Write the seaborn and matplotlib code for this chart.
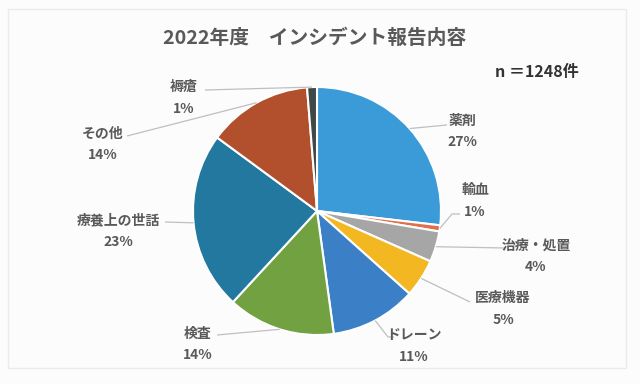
import numpy as np
import seaborn as sns
import matplotlib.pyplot as plt
from matplotlib.patches import Rectangle

# data (counts, n = 1248)
categories = ['薬剤', '輸血', '治療・処置', '医療機器', 'ドレーン', '検査', '療養上の世話', 'その他', '褥瘡']
counts = [335, 10, 50, 62, 140, 175, 290, 170, 16]
colors = ['#3a9bd8', '#e0704e', '#a6a6a6', '#f3b821', '#3b80c6', '#71a140', '#22789f', '#b2502d', '#3f4747']

title = '2022年度\u3000インシデント報告内容'
note = 'n ＝1248件'

# layout in pixels (from top-left of the 640x384 canvas)
pie_cx, pie_cy, pie_r = 317, 211, 124
label_xy = [(462, 131), (475, 201), (536, 256), (503, 309), (414, 346),
            (198, 344), (118, 231), (103, 144), (184, 98)]
leader_pts = [[(447, 125)],
              [(452, 214), (460, 214)],
              [(505, 248)],
              [(470, 302)],
              [(388, 337), (394, 337)],
              [(217, 335)],
              [(165, 222)],
              [(127, 136)],
              [(205, 90)]]

sns.set_theme(style='white')
plt.rcParams['font.family'] = ['Noto Sans CJK JP', 'DejaVu Sans']

W, H = 640, 384
fig = plt.figure(figsize=(6.4, 3.84), dpi=100)
fig.patch.set_facecolor('#fcfcfc')
ax = fig.add_axes([0, 0, 1, 1])


def py(y):
    return H - y


wedges, _ = ax.pie(counts, colors=colors, startangle=90, counterclock=False,
                   radius=pie_r, center=(pie_cx, py(pie_cy)),
                   wedgeprops=dict(edgecolor='white', linewidth=1.5))
ax.set_xlim(0, W)
ax.set_ylim(0, H)
ax.set_aspect('equal')
ax.axis('off')

# faint chart border
ax.add_patch(Rectangle((8, py(368)), 618, 359, fill=False, edgecolor='#ebebeb', lw=1))

total = sum(counts)
for w, cat, v, (tx, ty), pts in zip(wedges, categories, counts, label_xy, leader_pts):
    ang = np.deg2rad((w.theta1 + w.theta2) / 2)
    sx = pie_cx + pie_r * np.cos(ang)
    sy = py(pie_cy) + pie_r * np.sin(ang)
    xs = [sx] + [p[0] for p in pts]
    ys = [sy] + [py(p[1]) for p in pts]
    ax.plot(xs, ys, color='#bfbfbf', lw=0.9, solid_capstyle='butt')
    ax.text(tx, py(ty), f'{cat}\n{round(v / total * 100)}%', ha='center', va='center',
            fontsize=10, fontweight='bold', color='#595959', linespacing=1.65)

ax.text(315, py(38), title, ha='center', va='center', fontsize=14.2,
        fontweight='bold', color='#595959')
ax.text(537, py(72), note, ha='center', va='center', fontsize=11.5,
        fontweight='bold', color='#333333')

plt.savefig('out.png', dpi=100, facecolor=fig.get_facecolor())
